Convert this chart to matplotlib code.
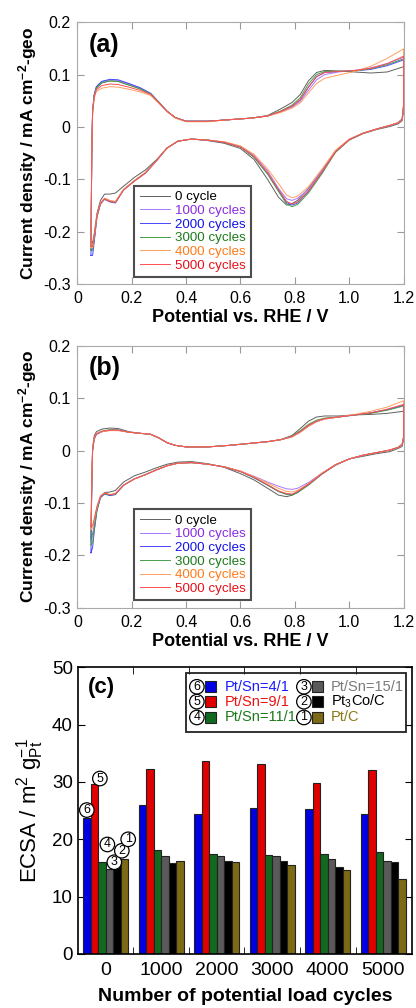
import numpy as np
import matplotlib
matplotlib.use('Agg')
import matplotlib.pyplot as plt
from matplotlib.patches import Rectangle

plt.rcParams['font.family'] = ['Liberation Sans', 'DejaVu Sans']
plt.rcParams['mathtext.fontset'] = 'custom'
plt.rcParams['mathtext.rm'] = 'Liberation Sans'
plt.rcParams['mathtext.it'] = 'Liberation Sans:italic'
plt.rcParams['mathtext.bf'] = 'Liberation Sans:bold'

# ================= CV data =================
cycle_labels = ['0 cycle', '1000 cycles', '2000 cycles', '3000 cycles', '4000 cycles', '5000 cycles']

# anodic sweep potentials / V
E_an = [0.05, 0.053, 0.056, 0.062, 0.07, 0.09, 0.12, 0.15, 0.19, 0.23, 0.27, 0.30, 0.33, 0.36, 0.40,
        0.48, 0.56, 0.64, 0.70, 0.75, 0.79, 0.82, 0.85, 0.88, 0.91, 0.96, 1.02, 1.08, 1.14, 1.20]
# cathodic sweep potentials / V
E_ca = [1.20, 1.195, 1.18, 1.15, 1.10, 1.05, 1.00, 0.95, 0.90, 0.85, 0.81, 0.79, 0.77, 0.74, 0.70,
        0.65, 0.60, 0.54, 0.48, 0.42, 0.37, 0.33, 0.29, 0.25, 0.21, 0.17, 0.14, 0.12, 0.10, 0.085,
        0.072, 0.063, 0.056, 0.05]

# panel (a)
a_an = [
    [-0.215, -0.05, 0.03, 0.060, 0.074, 0.084, 0.088, 0.087, 0.080, 0.073, 0.063, 0.047, 0.030, 0.018, 0.011,
     0.011, 0.014, 0.017, 0.022, 0.035, 0.047, 0.062, 0.088, 0.104, 0.108, 0.107, 0.105, 0.103, 0.105, 0.115],
    [-0.235, -0.05, 0.03, 0.062, 0.077, 0.087, 0.090, 0.089, 0.082, 0.075, 0.064, 0.047, 0.030, 0.018, 0.011,
     0.011, 0.014, 0.017, 0.021, 0.029, 0.038, 0.049, 0.070, 0.090, 0.100, 0.105, 0.108, 0.113, 0.121, 0.133],
    [-0.245, -0.05, 0.03, 0.062, 0.077, 0.087, 0.091, 0.090, 0.083, 0.075, 0.064, 0.047, 0.030, 0.018, 0.011,
     0.011, 0.014, 0.017, 0.021, 0.030, 0.040, 0.052, 0.076, 0.096, 0.104, 0.106, 0.107, 0.110, 0.117, 0.128],
    [-0.235, -0.05, 0.03, 0.060, 0.075, 0.085, 0.088, 0.087, 0.080, 0.073, 0.063, 0.047, 0.030, 0.018, 0.011,
     0.011, 0.014, 0.017, 0.021, 0.031, 0.042, 0.056, 0.082, 0.100, 0.106, 0.106, 0.107, 0.111, 0.119, 0.130],
    [-0.230, -0.05, 0.025, 0.055, 0.068, 0.074, 0.077, 0.076, 0.072, 0.067, 0.060, 0.045, 0.029, 0.017, 0.010,
     0.010, 0.014, 0.017, 0.021, 0.028, 0.036, 0.046, 0.065, 0.083, 0.093, 0.099, 0.106, 0.116, 0.131, 0.149],
    [-0.228, -0.05, 0.028, 0.058, 0.071, 0.079, 0.082, 0.081, 0.076, 0.070, 0.062, 0.046, 0.030, 0.018, 0.011,
     0.011, 0.014, 0.017, 0.021, 0.030, 0.040, 0.052, 0.076, 0.096, 0.104, 0.106, 0.108, 0.112, 0.121, 0.135],
]
a_ca = [
    [0.03, 0.012, 0.006, 0.001, -0.005, -0.013, -0.025, -0.048, -0.083, -0.117, -0.140, -0.146, -0.149, -0.134,
     -0.100, -0.062, -0.041, -0.031, -0.026, -0.023, -0.027, -0.040, -0.063, -0.082, -0.096, -0.113, -0.126,
     -0.128, -0.128, -0.140, -0.165, -0.200, -0.222, -0.215],
    [0.04, 0.015, 0.008, 0.003, -0.004, -0.012, -0.024, -0.046, -0.083, -0.119, -0.136, -0.140, -0.137, -0.117,
     -0.084, -0.054, -0.037, -0.029, -0.025, -0.023, -0.027, -0.040, -0.065, -0.088, -0.103, -0.120, -0.143,
     -0.141, -0.136, -0.145, -0.170, -0.210, -0.235, -0.235],
    [0.04, 0.015, 0.008, 0.003, -0.004, -0.012, -0.024, -0.047, -0.087, -0.123, -0.145, -0.149, -0.144, -0.121,
     -0.089, -0.057, -0.038, -0.029, -0.025, -0.023, -0.027, -0.040, -0.065, -0.088, -0.103, -0.120, -0.145,
     -0.143, -0.138, -0.147, -0.172, -0.215, -0.245, -0.245],
    [0.04, 0.015, 0.008, 0.003, -0.004, -0.012, -0.024, -0.048, -0.089, -0.126, -0.148, -0.152, -0.147, -0.123,
     -0.090, -0.058, -0.038, -0.029, -0.025, -0.023, -0.027, -0.040, -0.065, -0.087, -0.102, -0.119, -0.143,
     -0.141, -0.137, -0.146, -0.170, -0.210, -0.235, -0.235],
    [0.04, 0.015, 0.008, 0.003, -0.004, -0.012, -0.023, -0.044, -0.080, -0.114, -0.132, -0.135, -0.130, -0.108,
     -0.080, -0.052, -0.036, -0.028, -0.025, -0.023, -0.027, -0.040, -0.065, -0.087, -0.102, -0.119, -0.142,
     -0.140, -0.136, -0.145, -0.170, -0.205, -0.230, -0.230],
    [0.04, 0.015, 0.008, 0.003, -0.004, -0.012, -0.024, -0.047, -0.086, -0.122, -0.143, -0.147, -0.142, -0.119,
     -0.087, -0.056, -0.038, -0.029, -0.025, -0.023, -0.027, -0.040, -0.065, -0.088, -0.103, -0.120, -0.144,
     -0.142, -0.137, -0.146, -0.170, -0.205, -0.228, -0.228],
]

# panel (b)
b_an = [
    [-0.165, -0.06, 0.005, 0.028, 0.036, 0.041, 0.043, 0.042, 0.036, 0.033, 0.031, 0.024, 0.015, 0.010, 0.007,
     0.007, 0.010, 0.014, 0.017, 0.021, 0.029, 0.042, 0.056, 0.064, 0.066, 0.066, 0.068, 0.069, 0.071, 0.075],
    [-0.170, -0.07, 0.000, 0.022, 0.031, 0.036, 0.039, 0.039, 0.035, 0.033, 0.031, 0.024, 0.015, 0.010, 0.007,
     0.007, 0.010, 0.014, 0.017, 0.021, 0.026, 0.035, 0.046, 0.055, 0.060, 0.064, 0.068, 0.072, 0.078, 0.087],
    [-0.195, -0.07, 0.000, 0.022, 0.031, 0.036, 0.039, 0.039, 0.035, 0.033, 0.031, 0.024, 0.015, 0.010, 0.007,
     0.007, 0.010, 0.014, 0.017, 0.021, 0.027, 0.036, 0.048, 0.056, 0.061, 0.064, 0.068, 0.072, 0.078, 0.086],
    [-0.180, -0.07, 0.000, 0.023, 0.032, 0.037, 0.040, 0.039, 0.035, 0.033, 0.031, 0.024, 0.015, 0.010, 0.007,
     0.007, 0.010, 0.014, 0.017, 0.021, 0.028, 0.038, 0.050, 0.058, 0.062, 0.064, 0.068, 0.071, 0.077, 0.085],
    [-0.150, -0.06, 0.004, 0.024, 0.032, 0.036, 0.038, 0.038, 0.035, 0.033, 0.031, 0.024, 0.015, 0.010, 0.007,
     0.007, 0.010, 0.014, 0.017, 0.021, 0.026, 0.035, 0.046, 0.055, 0.060, 0.064, 0.069, 0.075, 0.083, 0.095],
    [-0.145, -0.06, 0.004, 0.024, 0.032, 0.037, 0.039, 0.039, 0.035, 0.033, 0.031, 0.024, 0.015, 0.010, 0.007,
     0.007, 0.010, 0.014, 0.017, 0.021, 0.027, 0.036, 0.048, 0.056, 0.061, 0.064, 0.068, 0.072, 0.079, 0.088],
]
b_ca = [
    [0.02, 0.008, 0.004, -0.002, -0.006, -0.011, -0.016, -0.028, -0.045, -0.066, -0.080, -0.085, -0.088, -0.085,
     -0.072, -0.056, -0.044, -0.032, -0.025, -0.021, -0.022, -0.026, -0.033, -0.041, -0.048, -0.060, -0.076,
     -0.079, -0.080, -0.088, -0.110, -0.140, -0.160, -0.165],
    [0.025, 0.012, 0.006, 0.001, -0.004, -0.009, -0.016, -0.027, -0.043, -0.061, -0.072, -0.074, -0.073, -0.068,
     -0.060, -0.049, -0.039, -0.031, -0.026, -0.023, -0.024, -0.029, -0.037, -0.046, -0.054, -0.066, -0.083,
     -0.085, -0.082, -0.088, -0.112, -0.140, -0.165, -0.170],
    [0.025, 0.012, 0.006, 0.001, -0.004, -0.009, -0.016, -0.027, -0.044, -0.064, -0.079, -0.084, -0.083, -0.078,
     -0.066, -0.052, -0.040, -0.031, -0.026, -0.023, -0.024, -0.029, -0.037, -0.046, -0.054, -0.066, -0.084,
     -0.086, -0.083, -0.090, -0.115, -0.150, -0.185, -0.195],
    [0.025, 0.012, 0.006, 0.001, -0.004, -0.009, -0.016, -0.027, -0.044, -0.065, -0.080, -0.085, -0.084, -0.078,
     -0.066, -0.052, -0.040, -0.031, -0.026, -0.023, -0.024, -0.029, -0.037, -0.046, -0.054, -0.066, -0.083,
     -0.085, -0.082, -0.089, -0.113, -0.148, -0.175, -0.180],
    [0.025, 0.012, 0.006, 0.001, -0.004, -0.009, -0.016, -0.027, -0.043, -0.063, -0.076, -0.079, -0.078, -0.072,
     -0.062, -0.050, -0.039, -0.031, -0.026, -0.023, -0.024, -0.029, -0.037, -0.046, -0.054, -0.066, -0.082,
     -0.084, -0.081, -0.087, -0.108, -0.130, -0.148, -0.150],
    [0.025, 0.012, 0.006, 0.001, -0.004, -0.009, -0.016, -0.027, -0.044, -0.064, -0.078, -0.083, -0.082, -0.077,
     -0.065, -0.051, -0.040, -0.031, -0.026, -0.023, -0.024, -0.029, -0.037, -0.046, -0.054, -0.066, -0.082,
     -0.084, -0.081, -0.087, -0.107, -0.128, -0.143, -0.145],
]

line_colors = ['#606060', '#a878ff', '#4848ff', '#48a048', '#ffa060', '#ff5050']
text_colors = ['#000000', '#8a2be2', '#1414e6', '#1e7a1e', '#ff7a1a', '#e8101a']

# ================= ECSA bar data =================
cycles = ['0', '1000', '2000', '3000', '4000', '5000']
samples = ['Pt/Sn=4/1', 'Pt/Sn=9/1', 'Pt/Sn=11/1', 'Pt/Sn=15/1', 'Pt$_3$Co/C', 'Pt/C']
sample_nums = ['6', '5', '4', '3', '2', '1']
ecsa = [
    [23.8, 26.0, 24.4, 25.4, 25.2, 24.4],   # Pt/Sn=4/1
    [29.6, 32.3, 33.6, 33.1, 29.8, 32.1],   # Pt/Sn=9/1
    [16.1, 18.1, 17.4, 17.3, 17.4, 17.7],   # Pt/Sn=11/1
    [14.8, 17.1, 17.1, 17.1, 16.5, 16.3],   # Pt/Sn=15/1
    [15.5, 15.8, 16.2, 16.2, 15.2, 16.0],   # Pt3Co/C
    [16.6, 16.3, 16.0, 15.5, 14.6, 13.1],   # Pt/C
]
bar_colors = ['#0000e0', '#e00000', '#116a1e', '#5a5a5a', '#000000', '#7d6a14']
bar_text_colors = ['#1a1aff', '#ee1111', '#1a7a1a', '#7a7a7a', '#000000', '#8a7a1a']

fig = plt.figure(figsize=(4.16, 10.08), dpi=100)


def cv_panel(ax, an, ca, tag):
    for k in range(6):
        E = np.concatenate([E_an, E_ca])
        j = np.concatenate([an[k], ca[k]])
        ax.plot(E, j, color=line_colors[k], lw=0.7, label=cycle_labels[k])
    ax.set_xlim(0, 1.2)
    ax.set_ylim(-0.3, 0.2)
    ax.set_xticks([0, 0.2, 0.4, 0.6, 0.8, 1.0, 1.2])
    ax.set_xticklabels(['0', '0.2', '0.4', '0.6', '0.8', '1.0', '1.2'])
    ax.set_yticks([-0.3, -0.2, -0.1, 0, 0.1, 0.2])
    ax.set_yticklabels(['-0.3', '-0.2', '-0.1', '0', '0.1', '0.2'])
    ax.tick_params(direction='in', top=True, right=True, length=5, color='#999999',
                   labelsize=11.5, pad=5)
    for s in ax.spines.values():
        s.set_color('#aaaaaa')
    ax.set_xlabel('Potential vs. RHE / V', fontsize=13, fontweight='bold', labelpad=2)
    ax.set_ylabel(r'Current density / mA cm$^{\mathbf{-2}}$-geo', fontsize=12.5,
                  fontweight='bold', labelpad=3)
    ax.text(0.035, 0.96, tag, transform=ax.transAxes, fontsize=18, fontweight='bold',
            va='top', ha='left')
    leg = ax.legend(loc='lower left', bbox_to_anchor=(0.175, 0.028), fontsize=9.6,
                    labelcolor=text_colors, frameon=True, fancybox=False, edgecolor='#222222',
                    handlelength=2.3, handletextpad=0.35, labelspacing=0.1, borderpad=0.4,
                    borderaxespad=0)
    leg.get_frame().set_linewidth(1.5)


axA = fig.add_axes([0.186, 0.718, 0.784, 0.260])
cv_panel(axA, a_an, a_ca, '(a)')
axB = fig.add_axes([0.186, 0.397, 0.784, 0.260])
cv_panel(axB, b_an, b_ca, '(b)')

# ================= panel (c) =================
axC = fig.add_axes([0.187, 0.0536, 0.804, 0.2844])
w = 0.135
x = np.arange(len(cycles))
for i in range(6):
    axC.bar(x + (i - 2.5) * w, ecsa[i], width=w, color=bar_colors[i], edgecolor='#222222', lw=0.8, zorder=2)

# circled sample numbers above the 0-cycle bars
num_offsets = [(0.0, 1.3), (0.1, 1.0), (0.1, 3.0), (0.09, 1.2), (0.09, 2.5), (0.07, 3.4)]
for i in range(6):
    dx, dy = num_offsets[i]
    axC.text(x[0] + (i - 2.5) * w + dx, ecsa[i][0] + dy, sample_nums[i], fontsize=9, ha='center',
             va='center', zorder=4,
             bbox=dict(boxstyle='circle,pad=0.1', fc='white', ec='black', lw=0.9))

axC.set_xlim(-0.5, 5.52)
axC.set_ylim(0, 50)
axC.set_xticks(x)
axC.set_xticklabels(cycles)
axC.set_xticks(x[:-1] + 0.5, minor=True)
axC.set_yticks([0, 10, 20, 30, 40, 50])
axC.tick_params(axis='x', which='major', length=0, labelsize=14, pad=6)
axC.tick_params(axis='x', which='minor', direction='in', top=True, bottom=True, length=5)
axC.tick_params(axis='y', direction='in', right=True, length=5, labelsize=13.5)
for s in axC.spines.values():
    s.set_linewidth(1.2)
axC.set_xlabel('Number of potential load cycles', fontsize=14, fontweight='bold', labelpad=6)
axC.set_ylabel(r'ECSA / m$^{2}$ g$_{\mathrm{Pt}}^{-1}$', fontsize=16, labelpad=4)
axC.text(0.03, 0.965, '(c)', transform=axC.transAxes, fontsize=16, fontweight='bold',
         va='top', ha='left')

# legend of panel (c), two columns with circled numbers
axC.add_patch(Rectangle((0.323, 0.775), 0.658, 0.206, transform=axC.transAxes, fill=False,
                        ec='#222222', lw=1.3, zorder=5))
rows_y = [0.932, 0.880, 0.825]
cols = [(0.356, 0.396, 0.440), (0.676, 0.716, 0.757)]
sq_w, sq_h = 0.033, 0.038
for i in range(6):
    c = cols[i // 3]
    yy = rows_y[i % 3]
    axC.text(c[0], yy, sample_nums[i], transform=axC.transAxes, fontsize=9, ha='center',
             va='center', zorder=7,
             bbox=dict(boxstyle='circle,pad=0.1', fc='white', ec='black', lw=0.9))
    axC.add_patch(Rectangle((c[1] - sq_w / 2, yy - sq_h / 2), sq_w, sq_h, transform=axC.transAxes,
                            fc=bar_colors[i], ec='#222222', lw=0.8, zorder=6))
    axC.text(c[2], yy, samples[i], transform=axC.transAxes, fontsize=10.5, ha='left',
             va='center', color=bar_text_colors[i], zorder=6)

fig.savefig('out.png', dpi=100)
